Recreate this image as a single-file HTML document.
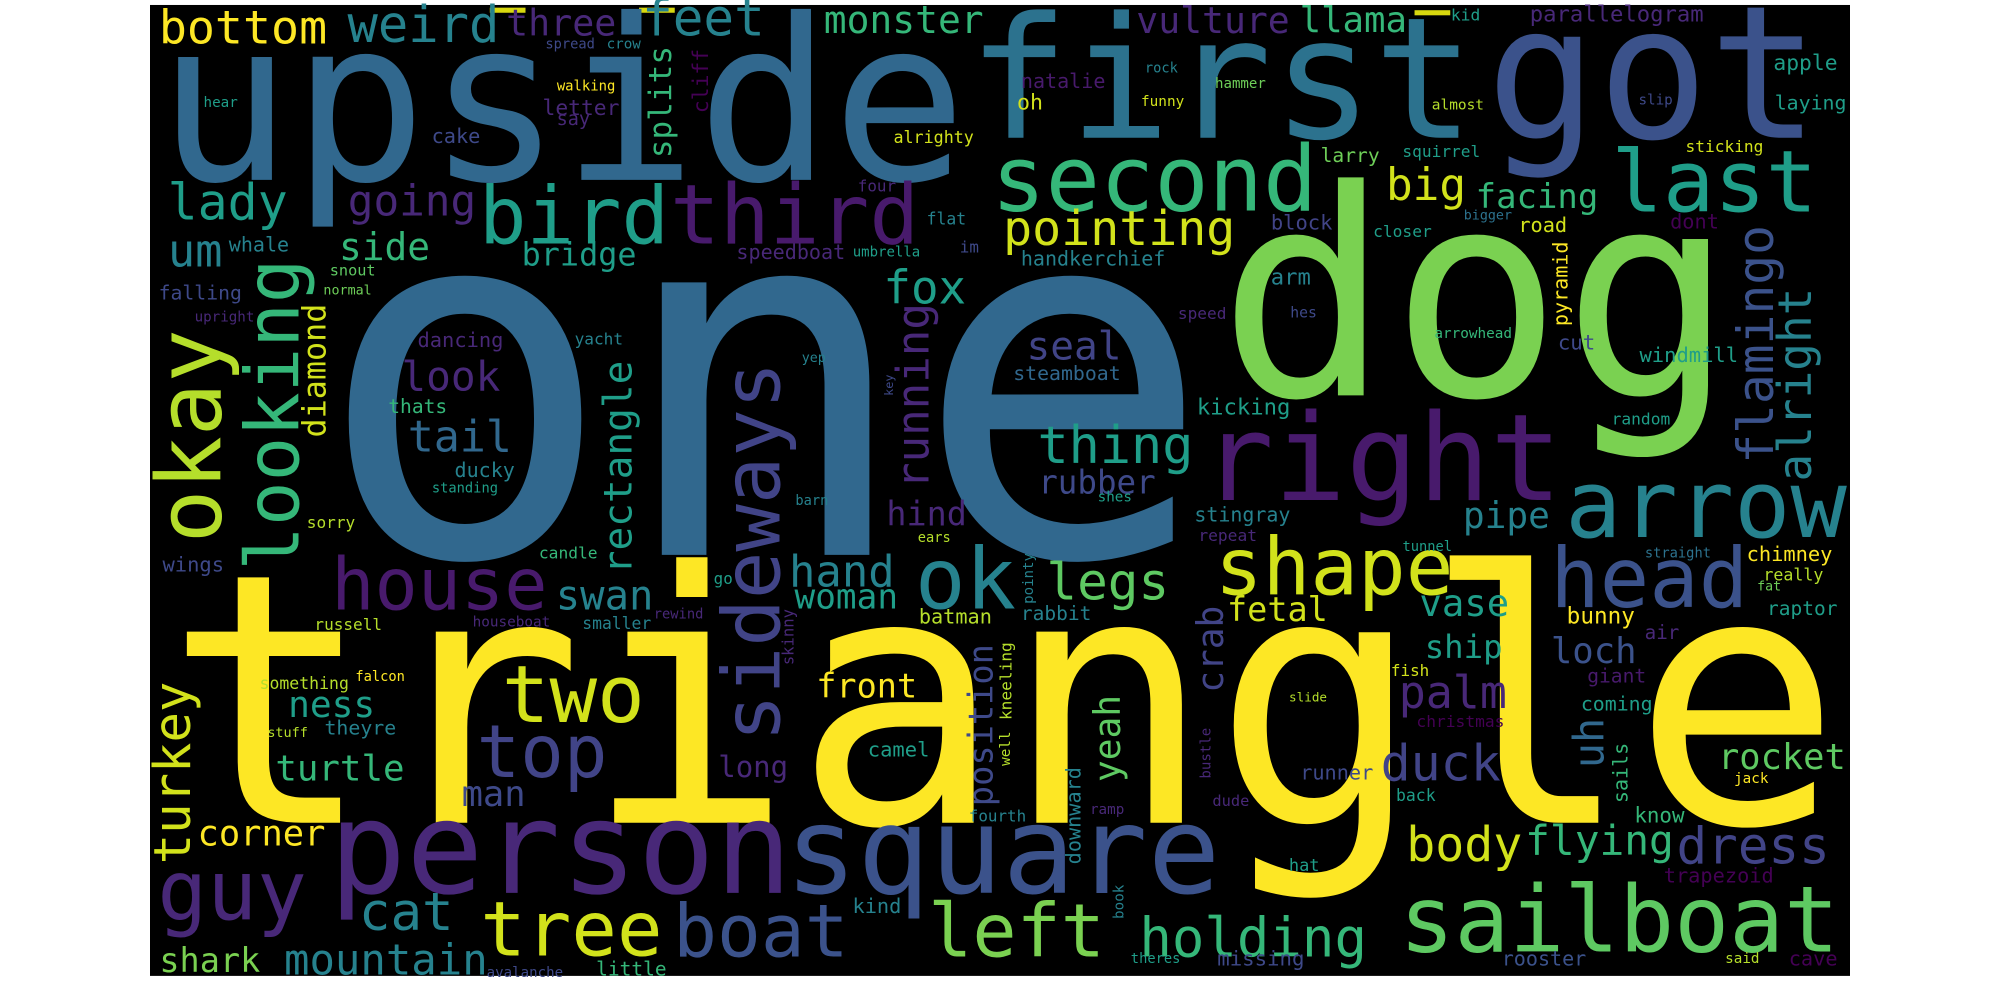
<!DOCTYPE html>
<html><head><meta charset="utf-8"><style>
html,body{margin:0;padding:0;background:#fff;width:2000px;height:1000px;overflow:hidden}
svg{display:block}
text{font-family:"DejaVu Sans Mono","Liberation Mono",monospace;white-space:pre}
</style></head><body>
<svg id="cloud" width="2000" height="1000" viewBox="0 0 1568 784" preserveAspectRatio="none" xmlns="http://www.w3.org/2000/svg">
<rect x="117.6" y="3.9" width="1332.8" height="761.2" fill="#000"/>
<rect x="384" y="6" width="28" height="4" fill="#d8d80f"/>
<rect x="501" y="6" width="28" height="4" fill="#d8d80f"/>
<rect x="1109" y="8" width="28" height="4" fill="#d8d80f"/>
<g id="words"></g>
</svg>
<script>
// colour palette (viridis)
const C = {a:"#440154",b:"#481a6c",c:"#482878",d:"#3e4989",e:"#31688e",f:"#26828e",g:"#1f9e89",h:"#35b779",i:"#6ece58",j:"#b5de2b",k:"#fde725",l:"#3b528b",m:"#2c728e",n:"#d2e21b",o:"#5ec962",p:"#414487",q:"#7ad151"};
// horizontal words: word, left x, baseline y, ink width, colour
const hWords = [
["one",263,435,672,"e"],["triangle",140,645,1293,"k"],["upside",130,141,621,"e"],["first",764,108,387,"m"],
["got",1171,108,250,"l"],["dog",964,310,387,"q"],["right",946,392,275,"b"],["arrow",1230,421,215,"f"],
["person",262,700,355,"c"],["square",619,700,334,"l"],["sailboat",1100,746,339,"o"],["second",780,165,250,"h"],
["third",528,191,190,"b"],["bird",378,191,144,"g"],["house",262,478,165,"b"],["head",1218,476,150,"l"],
["shape",955,466,182,"n"],["last",1266,166,156,"g"],["two",396,566,107,"n"],["top",376,609,98,"p"],
["tree",379,749,138,"n"],["boat",530,750,133,"l"],["left",730,750,134,"q"],["guy",126,721,112,"c"],
["ok",720,477,74,"f"],["bottom",126,34,129,"k"],["weird",274,33,116,"f"],["three",398,28,84,"c"],
["feet",505,28,93,"f"],["monster",647,26,123,"h"],["vulture",892,26,118,"c"],["llama",1020,25,82,"h"],
["kid",1138,16,22,"g"],["parallelogram",1200,17,135,"c"],["apple",1391,55,49,"g"],["laying",1392,86,55,"g"],
["slip",1285,82,26,"d"],["almost",1123,86,40,"j"],["hammer",953,69,39,"i"],["rock",898,57,25,"f"],
["natalie",801,69,65,"b"],["oh",798,86,19,"n"],["funny",895,83,33,"n"],["alrighty",701,112,62,"n"],
["lady",133,172,91,"g"],["going",274,169,98,"c"],["um",133,209,40,"f"],["whale",180,197,46,"f"],
["side",267,204,69,"h"],["bridge",410,208,88,"g"],["snout",259,216,35,"o"],["normal",254,231,37,"i"],
["falling",125,235,64,"d"],["upright",153,252,46,"c"],["hear",160,84,26,"g"],["spread",428,38,38,"d"],
["crow",476,38,26,"f"],["walking",437,71,45,"k"],["letter",426,90,59,"c"],["say",437,98,25,"c"],
["cake",339,112,37,"d"],["dancing",328,272,66,"c"],["yacht",451,270,37,"f"],["look",316,306,75,"c"],
["thats",305,324,45,"h"],["tail",321,354,79,"e"],["ducky",357,374,46,"f"],["standing",339,386,51,"g"],
["four",673,150,29,"c"],["flat",727,176,30,"f"],["speedboat",578,203,84,"c"],["umbrella",669,201,52,"g"],
["im",753,198,14,"d"],["pointing",788,192,179,"n"],["handkerchief",801,208,112,"f"],["fox",694,238,62,"g"],
["seal",806,282,72,"p"],["steamboat",795,298,83,"e"],["yep",629,284,18,"f"],["speed",924,250,37,"c"],
["kicking",939,325,72,"g"],["thing",815,363,119,"g"],["rubber",815,387,90,"d"],["big",1088,157,60,"n"],
["facing",1158,163,94,"h"],["larry",1036,127,45,"i"],["squirrel",1100,123,60,"g"],["sticking",1322,119,60,"n"],
["block",997,180,47,"p"],["bigger",1148,172,37,"m"],["road",1191,182,37,"n"],["closer",1077,186,45,"g"],
["dont",1310,179,37,"a"],["arm",997,223,30,"f"],["hes",1012,249,20,"d"],["arrowhead",1125,265,60,"h"],
["cut",1222,274,28,"d"],["windmill",1286,284,76,"g"],["random",1264,333,45,"g"],["pipe",1148,414,66,"f"],
["tunnel",1100,432,38,"g"],["straight",1290,437,51,"m"],["chimney",1370,440,66,"k"],["really",1383,455,46,"j"],
["fat",1378,463,18,"i"],["raptor",1386,482,54,"g"],["vase",1114,483,68,"g"],["fetal",963,487,77,"n"],
["bunny",1229,489,52,"k"],["air",1290,501,26,"c"],["ship",1118,516,59,"g"],["loch",1217,520,65,"l"],
["fish",1091,530,29,"n"],["giant",1245,535,45,"b"],["slide",1011,550,29,"j"],["palm",1098,555,82,"c"],
["coming",1240,557,55,"g"],["christmas",1111,570,68,"a"],["duck",1084,612,91,"p"],["runner",1020,611,56,"d"],
["rocket",1348,603,98,"o"],["jack",1360,614,26,"k"],["back",1095,628,30,"g"],["know",1282,645,38,"h"],
["body",1104,675,88,"n"],["flying",1197,670,114,"h"],["dress",1316,677,117,"p"],["hat",1011,683,23,"g"],
["trapezoid",1305,692,85,"a"],["rooster",1178,757,65,"l"],["said",1353,755,26,"j"],["cave",1403,757,37,"a"],
["sorry",241,414,37,"j"],["candle",423,438,45,"h"],["wings",128,448,47,"d"],["swan",437,478,74,"f"],
["russell",247,494,52,"j"],["houseboat",371,491,60,"c"],["smaller",457,493,53,"f"],["rewind",513,485,38,"c"],
["go",560,458,14,"g"],["something",204,540,69,"j"],["falcon",279,534,38,"k"],["ness",227,562,66,"g"],
["theyre",255,576,55,"f"],["stuff",210,578,31,"j"],["turtle",217,612,99,"h"],["man",363,632,48,"d"],
["corner",156,663,98,"k"],["cat",283,729,71,"f"],["shark",126,762,77,"q"],["mountain",224,764,157,"f"],
["avalanche",382,766,59,"d"],["little",468,765,54,"h"],["barn",624,396,25,"f"],["hind",696,412,61,"c"],
["ears",720,425,25,"j"],["shes",861,393,26,"g"],["stingray",937,409,74,"f"],["repeat",940,424,45,"c"],
["hand",620,460,80,"f"],["woman",624,477,79,"g"],["legs",822,470,93,"o"],["batman",721,489,56,"j"],
["rabbit",801,486,54,"f"],["front",641,547,77,"k"],["long",564,609,53,"c"],["camel",681,593,47,"g"],
["fourth",760,644,44,"f"],["ramp",855,638,26,"c"],["dude",951,632,28,"c"],["kind",669,716,37,"f"],
["holding",895,750,175,"h"],["theres",887,755,38,"g"],["missing",955,757,67,"d"]
];
// vertical words (read bottom-to-top): word, baseline x, bottom y, length, colour
const vWords = [
["okay",173,423,162,"j"],["looking",234,445,240,"h"],["diamond",255,342,103,"n"],["rectangle",495,449,165,"g"],
["turkey",149,676,140,"n"],["sideways",611,579,293,"p"],["running",728,382,143,"c"],["position",778,631,125,"d"],
["kneeling",793,564,60,"j"],["well",792,600,26,"j"],["yeah",878,612,66,"o"],["downward",847,677,75,"f"],
["crab",959,542,66,"p"],["skinny",622,521,43,"c"],["pointy",810,473,39,"f"],["bustle",949,610,39,"c"],
["key",700,310,16,"d"],["book",881,720,26,"f"],["pyramid",1229,255,65,"k"],["flamingo",1390,362,184,"l"],
["alright",1420,376,149,"f"],["uh",1257,601,37,"e"],["sails",1276,629,46,"h"],["splits",526,123,86,"h"],
["cliff",555,88,49,"a"]
];
const K = 1.0;
const NS = "http://www.w3.org/2000/svg";
const g = document.getElementById("words");
function fit(word, len){
  const n = word.length;
  const fw = len / (0.6*n - 0.08);
  return {fs: K*fw, tl: 0.6*n*fw, off: 0.04*fw};
}
for (const w of hWords) {
  const f = fit(w[0], w[3]);
  const t = document.createElementNS(NS, "text");
  
  
  t.setAttribute("x", w[1] - f.off);
  t.setAttribute("y", w[2]);
  t.setAttribute("font-size", f.fs.toFixed(2));
  t.setAttribute("textLength", f.tl.toFixed(2));
  t.setAttribute("lengthAdjust", "spacingAndGlyphs");
  t.setAttribute("fill", C[w[4]]);
  t.textContent = w[0];
  g.appendChild(t);
}
for (const w of vWords) {
  const f = fit(w[0], w[3]);
  const t = document.createElementNS(NS, "text");
  
  
  const x = w[1], y = w[2] + f.off;
  t.setAttribute("x", x);
  t.setAttribute("y", y);
  t.setAttribute("transform", "rotate(-90 " + x + " " + y + ")");
  t.setAttribute("font-size", f.fs.toFixed(2));
  t.setAttribute("textLength", f.tl.toFixed(2));
  t.setAttribute("lengthAdjust", "spacingAndGlyphs");
  t.setAttribute("fill", C[w[4]]);
  t.textContent = w[0];
  g.appendChild(t);
}
</script>
</body></html>
